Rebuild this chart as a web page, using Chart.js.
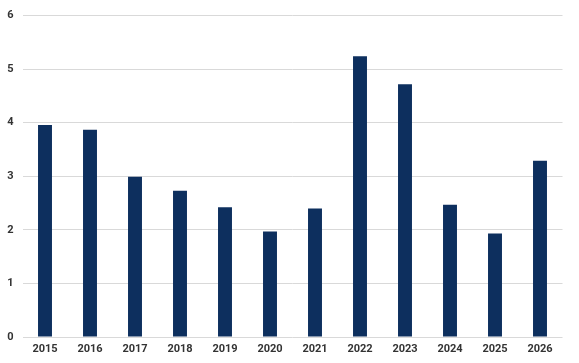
<!DOCTYPE html>
<html>
<head>
<meta charset="utf-8">
<script src="https://cdn.jsdelivr.net/npm/chart.js@4.4.1/dist/chart.umd.min.js"></script>
<style>
  html, body { margin: 0; padding: 0; background: #fff; }
  #wrap { width: 579px; height: 363px; position: relative; }
</style>
</head>
<body>
<div id="wrap"><canvas id="chart"></canvas></div>
<script>
// ── Données ───────────────────────────────────────────────────────────────
const years  = ['2015', '2016', '2017', '2018', '2019', '2020', '2021', '2022', '2023', '2024', '2025', '2026'];
const values = [3.96, 3.87, 2.99, 2.73, 2.42, 1.97, 2.40, 5.24, 4.72, 2.47, 1.93, 3.29];
const yTicks = [0, 1, 2, 3, 4, 5, 6];

const BAR_COLOR = '#0d2f5e';

Chart.defaults.font.family = "Roboto, 'Noto Sans', sans-serif";
Chart.defaults.font.size = 11;
Chart.defaults.color = '#333333';

new Chart(document.getElementById('chart'), {
  type: 'bar',
  data: {
    labels: years,
    datasets: [{
      data: values,
      backgroundColor: BAR_COLOR,
      borderWidth: 0,
      barPercentage: 0.31,
      categoryPercentage: 1,
    }],
  },
  options: {
    responsive: true,
    maintainAspectRatio: false,
    animation: false,
    layout: { padding: { top: 7, right: 16.5, bottom: 0, left: 0 } },
    plugins: { legend: { display: false }, tooltip: { enabled: false } },
    scales: {
      x: {
        grid: { display: false, drawTicks: false },
        border: { display: false },
        ticks: { font: { weight: 'bold' }, padding: 6, maxRotation: 0 },
        afterFit: s => { s.height = 26; },
      },
      y: {
        min: 0,
        max: 6,
        afterBuildTicks: s => { s.ticks = yTicks.map(v => ({ value: v })); },
        grid: { color: '#d9d9d9', drawTicks: false },
        border: { display: false },
        ticks: { font: { weight: 'bold' }, padding: 9 },
        afterFit: s => { s.width = 22.5; },
      },
    },
  },
});
</script>
</body>
</html>
